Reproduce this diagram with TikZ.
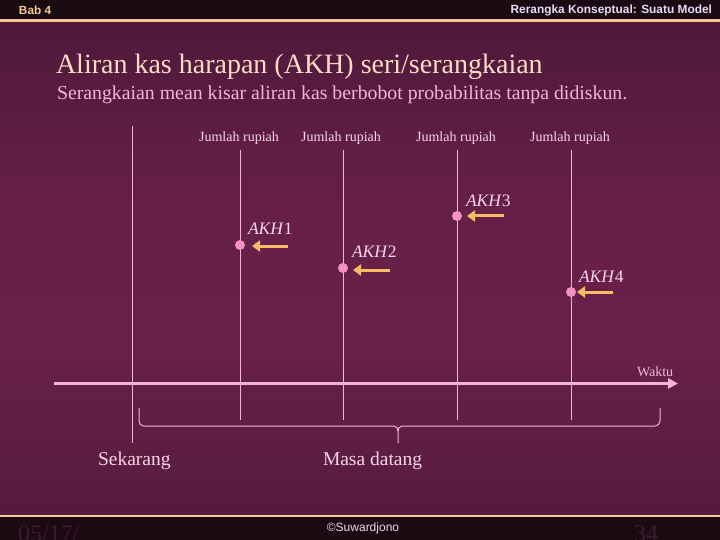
\documentclass[tikz,border=0pt]{standalone}
\usepackage{fontspec}
\setmainfont{Liberation Serif}
\newfontfamily\hdrfont{Liberation Sans}
\usetikzlibrary{arrows.meta}
\definecolor{hdrbg}{HTML}{1A0A12}
\definecolor{ftbg}{HTML}{1C0A12}
\definecolor{hdrgold}{HTML}{F4C890}
\definecolor{hdrlav}{HTML}{E8DCF4}
\definecolor{hdrline}{HTML}{F8C890}
\definecolor{titlec}{HTML}{FADCC4}
\definecolor{subc}{HTML}{F2B4DC}
\definecolor{labc}{HTML}{F8D4E4}
\definecolor{linec}{HTML}{F4B4D4}
\definecolor{dotc}{HTML}{F490C4}
\definecolor{arrc}{HTML}{F8BC68}
\definecolor{darkc}{HTML}{3A1C2C}
\definecolor{copyc}{HTML}{E4DCEC}
\definecolor{g0}{HTML}{240B18}
\definecolor{g1}{HTML}{3E1430}
\definecolor{g2}{HTML}{581C40}
\definecolor{g3}{HTML}{6A2149}
\definecolor{g4}{HTML}{651F47}
\definecolor{g5}{HTML}{4A1838}
\definecolor{g6}{HTML}{2A0F1E}
\definecolor{g7}{HTML}{1E0A16}
\pgfdeclareverticalshading{bgshade}{100bp}{color(0bp)=(g0); color(15bp)=(g1); color(27bp)=(g2); color(43bp)=(g3); color(58bp)=(g4); color(78bp)=(g5); color(92bp)=(g6); color(100bp)=(g7)}
\tikzset{
  txt/.style={inner sep=0pt, outer sep=0pt},
  jlab/.style={txt, anchor=base, text=labc, font=\fontsize{14}{16}\selectfont},
  akhlab/.style={txt, anchor=base west, text=labc, font=\fontsize{17.5}{20}\selectfont},
  vline/.style={draw=linec, line width=0.9pt},
  dotnode/.style={circle, fill=dotc, minimum size=10pt, inner sep=0pt},
  orarrow/.style={draw=arrc, line width=3pt, -{Triangle[length=8pt,width=11pt]}},
  bracec/.style={draw=linec, line width=1pt},
}
\begin{document}
\begin{tikzpicture}[x=1pt,y=-1pt]
\useasboundingbox (0,0) rectangle (720,540);
\clip (0,0) rectangle (720,540);
% background
\fill[hdrbg] (0,0) rectangle (720,20);
\shade[shading=bgshade] (0,20) rectangle (720,516);
\fill[ftbg] (0,516) rectangle (720,540);
\draw[hdrline, line width=2.4pt] (0,20.6) -- (720,20.6);
\draw[hdrline, line width=2.6pt] (0,516) -- (720,516);
% header
\node[txt, anchor=west, text=hdrgold, font=\hdrfont\bfseries\fontsize{11.8}{13}\selectfont] (bab) at (19,10.5) {Bab 4};
\node[txt, anchor=east, text=hdrlav, font=\hdrfont\bfseries\fontsize{11.9}{13}\selectfont] (rer) at (712,10.5) {Rerangka Konseptual: Suatu Model};
% titles
\node[txt, anchor=base west, text=titlec, font=\fontsize{28}{32}\selectfont] (title) at (56,74) {Aliran kas harapan (AKH) seri/serangkaian};
\node[txt, anchor=base west, text=subc, font=\fontsize{19.8}{22}\selectfont] (sub) at (57,100) {Serangkaian mean kisar aliran kas berbobot probabilitas tanpa didiskun.};
% vertical lines
\coordinate (v0t) at (132,126); \coordinate (v0b) at (132,443);
\coordinate (v1t) at (240,150); \coordinate (v1b) at (240,420);
\coordinate (v2t) at (343,150); \coordinate (v2b) at (343,420);
\coordinate (v3t) at (457,150); \coordinate (v3b) at (457,420);
\coordinate (v4t) at (571,150); \coordinate (v4b) at (571,420);
\draw[vline] (v0t) -- (v0b);
\draw[vline] (v1t) -- (v1b);
\draw[vline] (v2t) -- (v2b);
\draw[vline] (v3t) -- (v3b);
\draw[vline] (v4t) -- (v4b);
% labels
\node[jlab] (j1) at (239,142) {Jumlah rupiah};
\node[jlab] (j2) at (341,142) {Jumlah rupiah};
\node[jlab] (j3) at (456,142) {Jumlah rupiah};
\node[jlab] (j4) at (570,142) {Jumlah rupiah};
% dots
\node[dotnode] (d1) at (240,245) {};
\node[dotnode] (d2) at (343,268) {};
\node[dotnode] (d3) at (457,216) {};
\node[dotnode] (d4) at (571,292) {};
% AKH labels
\node[akhlab] (k1) at (248,235) {\textit{AKH}1};
\node[akhlab] (k2) at (352,258) {\textit{AKH}2};
\node[akhlab] (k3) at (466,207) {\textit{AKH}3};
\node[akhlab] (k4) at (579,282) {\textit{AKH}4};
% orange arrows
\coordinate (a1s) at (288,246); \coordinate (a1e) at (252,246);
\coordinate (a2s) at (390,270); \coordinate (a2e) at (353,270);
\coordinate (a3s) at (504,216); \coordinate (a3e) at (467,216);
\coordinate (a4s) at (613,292); \coordinate (a4e) at (577,292);
\draw[orarrow] (a1s) -- (a1e);
\draw[orarrow] (a2s) -- (a2e);
\draw[orarrow] (a3s) -- (a3e);
\draw[orarrow] (a4s) -- (a4e);
% time axis
\coordinate (axs) at (54,383.5); \coordinate (axe) at (678,383.5);
\draw[draw=linec, line width=2.4pt, -{Triangle[length=10pt,width=10pt]}] (axs) -- (axe);
\node[txt, anchor=base west, text=subc, font=\fontsize{14}{16}\selectfont] (waktu) at (637,376) {Waktu};
% brace
\draw[bracec] (139,408) -- (139,421) to[out=-90,in=180] (143.5,426) -- (394,426) to[out=0,in=90] (398,431) -- (398,443)
  (398,431) to[out=90,in=180] (402,426) -- (655,426) to[out=0,in=-90] (660,421) -- (660,408);
\node[txt, anchor=base west, text=labc, font=\fontsize{19.5}{22}\selectfont] (sek) at (98,465) {Sekarang};
\node[txt, anchor=base west, text=labc, font=\fontsize{19.5}{22}\selectfont] (masa) at (323,465) {Masa datang};
% footer
\node[txt, anchor=base, text=copyc, font=\hdrfont\fontsize{12}{14}\selectfont] (copy) at (363,531) {©Suwardjono};
\node[txt, anchor=base west, text=darkc, font=\fontsize{24}{26}\selectfont] (date) at (18,541) {05/17/};
\node[txt, anchor=base west, text=darkc, font=\fontsize{24}{26}\selectfont] (page) at (634,541) {34};
\end{tikzpicture}
\end{document}
